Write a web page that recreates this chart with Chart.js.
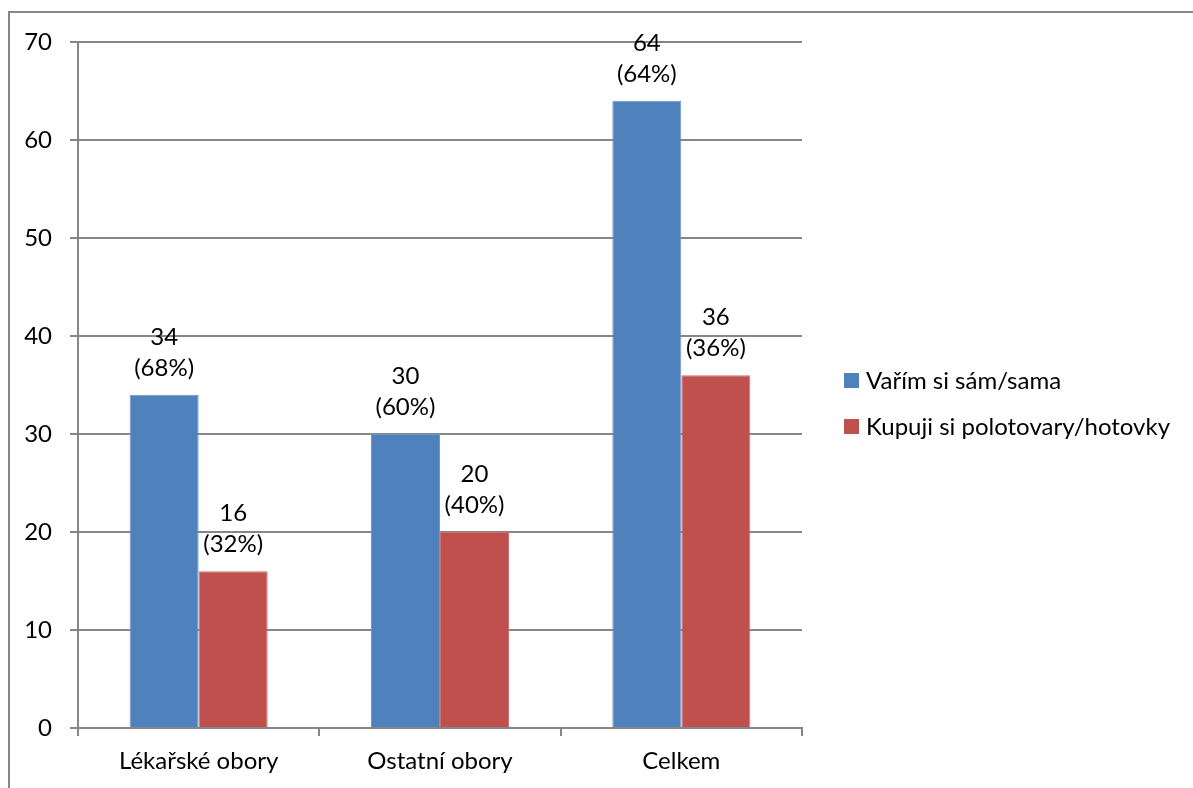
<!DOCTYPE html>
<html>
<head>
<meta charset="utf-8">
<script src="https://cdn.jsdelivr.net/npm/chart.js@4"></script>
<style>
  html, body { margin: 0; padding: 0; background: #fff; }
  #wrap { width: 1193px; height: 788px; }
</style>
</head>
<body>
<div id="wrap"><canvas id="barChart" width="1193" height="788"></canvas></div>
<script>
// Chart data
var categories = ["Lékařské obory", "Ostatní obory", "Celkem"];
var seriesNames = ["Vařím si sám/sama", "Kupuji si polotovary/hotovky"];
var cookValues = [34, 30, 64];
var readyValues = [16, 20, 36];
var cookPercent = [68, 60, 64];
var readyPercent = [32, 40, 36];
var yTicks = [0, 10, 20, 30, 40, 50, 60, 70];

var FONT = "Lato, 'Open Sans', sans-serif";
var FONT_SIZE = 24;
var GRID = "#868686";

// outer frame around the whole chart
var framePlugin = {
  id: "frame",
  beforeDraw: function (chart) {
    var ctx = chart.ctx;
    ctx.save();
    ctx.strokeStyle = "#868686";
    ctx.lineWidth = 2;
    ctx.strokeRect(9, 12, 1400, 1000);
    ctx.restore();
  }
};

// two-line value labels above each bar
var valueLabels = {
  id: "valueLabels",
  afterDatasetsDraw: function (chart) {
    var ctx = chart.ctx;
    ctx.save();
    ctx.font = FONT_SIZE + "px " + FONT;
    ctx.fillStyle = "#000";
    ctx.textAlign = "center";
    ctx.textBaseline = "middle";
    chart.data.datasets.forEach(function (ds, i) {
      chart.getDatasetMeta(i).data.forEach(function (bar, j) {
        ctx.fillText(ds.data[j], bar.x, bar.y - 58);
        ctx.fillText("(" + ds.percent[j] + "%)", bar.x, bar.y - 27);
      });
    });
    ctx.restore();
  }
};

// legend on the right side
var sideLegend = {
  id: "sideLegend",
  afterDraw: function (chart) {
    var ctx = chart.ctx;
    ctx.save();
    ctx.font = FONT_SIZE + "px " + FONT;
    ctx.textBaseline = "middle";
    ctx.textAlign = "left";
    chart.data.datasets.forEach(function (ds, i) {
      var y = 380 + i * 46;
      ctx.fillStyle = ds.backgroundColor;
      ctx.fillRect(844, y - 7, 15, 15);
      ctx.fillStyle = "#000";
      ctx.fillText(ds.label, 866, y + 1);
    });
    ctx.restore();
  }
};

var ctx = document.getElementById("barChart").getContext("2d");
new Chart(ctx, {
  type: "bar",
  data: {
    labels: categories,
    datasets: [
      {
        label: seriesNames[0],
        data: cookValues,
        percent: cookPercent,
        backgroundColor: "#4F81BD",
        borderColor: "#6d98cc",
        borderWidth: { top: 1, left: 1, right: 1, bottom: 0 },
        categoryPercentage: 0.572,
        barPercentage: 1
      },
      {
        label: seriesNames[1],
        data: readyValues,
        percent: readyPercent,
        backgroundColor: "#C0504D",
        borderColor: "#cf6f6c",
        borderWidth: { top: 1, left: 1, right: 1, bottom: 0 },
        categoryPercentage: 0.572,
        barPercentage: 1
      }
    ]
  },
  options: {
    responsive: false,
    animation: false,
    layout: { padding: { top: 42, right: 391, left: 0, bottom: 0 } },
    plugins: {
      legend: { display: false },
      tooltip: { enabled: false }
    },
    scales: {
      x: {
        offset: true,
        grid: {
          offset: true,
          drawOnChartArea: false,
          color: GRID,
          lineWidth: 2,
          tickLength: 8
        },
        border: { color: GRID, width: 2 },
        ticks: {
          color: "#000",
          padding: 11,
          font: { family: FONT, size: FONT_SIZE }
        },
        afterFit: function (scale) { scale.height = 60; }
      },
      y: {
        min: 0,
        max: 70,
        afterBuildTicks: function (scale) {
          scale.ticks = yTicks.map(function (v) { return { value: v }; });
        },
        grid: { color: GRID, lineWidth: 2, tickLength: 8 },
        border: { color: GRID, width: 2 },
        ticks: {
          color: "#000",
          padding: 18,
          font: { family: FONT, size: FONT_SIZE }
        },
        afterFit: function (scale) { scale.width = 78; }
      }
    }
  },
  plugins: [framePlugin, valueLabels, sideLegend]
});
</script>
</body>
</html>
